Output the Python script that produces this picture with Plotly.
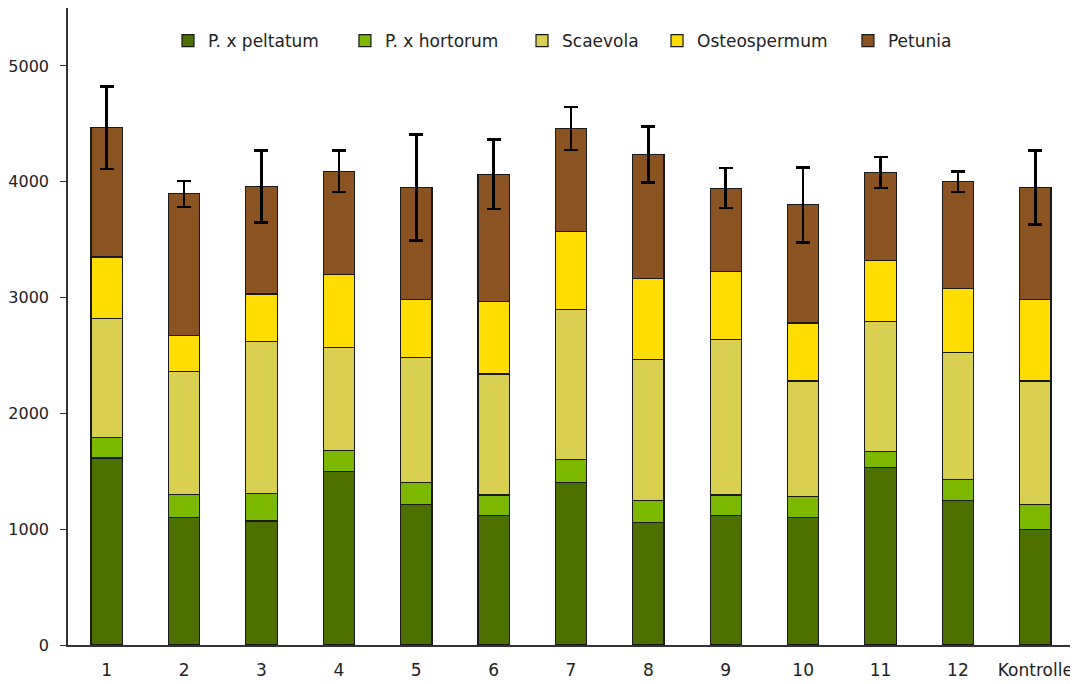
import plotly.graph_objects as go

categories = ["1", "2", "3", "4", "5", "6", "7", "8", "9", "10", "11", "12", "Kontrolle"]

peltatum     = [1615, 1100, 1070, 1495, 1215, 1115, 1405, 1060, 1115, 1100, 1535, 1245, 995]
hortorum     = [175, 200, 240, 185, 185, 180, 200, 185, 180, 185, 135, 185, 220]
scaevola     = [1030, 1060, 1310, 890, 1080, 1045, 1295, 1220, 1340, 995, 1125, 1095, 1065]
osteospermum = [530, 315, 410, 630, 500, 625, 670, 700, 590, 500, 525, 555, 700]
petunia      = [1115, 1220, 930, 890, 970, 1100, 890, 1070, 720, 1020, 760, 920, 970]
error_total  = [355, 112, 310, 180, 458, 302, 186, 240, 172, 324, 133, 87, 320]

series_names = ["P. x peltatum", "P. x hortorum", "Scaevola", "Osteospermum", "Petunia"]
series_values = [peltatum, hortorum, scaevola, osteospermum, petunia]
series_colors = ["#4B7000", "#7DB800", "#D9CF50", "#FFDD00", "#8B5222"]
legend_x = [0.0994, 0.2753, 0.4513, 0.5855, 0.7753]

fig = go.Figure()
legend_layout = {}
for i, (name, vals, color) in enumerate(zip(series_names, series_values, series_colors)):
    kw = {}
    if i == len(series_names) - 1:
        kw["error_y"] = dict(type="data", array=error_total, symmetric=True,
                             color="#000000", thickness=2.6, width=7)
    lname = "legend" if i == 0 else f"legend{i + 1}"
    fig.add_trace(go.Bar(
        x=categories, y=vals, name=name, legend=lname,
        marker=dict(color=color, line=dict(color="#1a1a1a", width=1.2)),
        **kw,
    ))
    legend_layout[lname] = dict(orientation="h", x=legend_x[i], xanchor="left",
                                y=0.948, yanchor="middle",
                                font=dict(family="DejaVu Sans", size=17, color="#222222"),
                                bgcolor="rgba(0,0,0,0)")

fig.update_layout(
    barmode="stack",
    bargap=0.595,
    width=1070, height=676,
    margin=dict(l=60, r=4, t=0, b=39),
    paper_bgcolor="white", plot_bgcolor="white",
    font=dict(family="DejaVu Sans", size=16, color="#222222"),
    showlegend=True,
    **legend_layout,
)
fig.update_xaxes(type="category", showline=True, linecolor="#333333", linewidth=1.5,
                 ticks="", showgrid=False, ticklabelstandoff=9,
                 tickfont=dict(family="DejaVu Sans", size=17, color="#222222"))
fig.update_yaxes(range=[0, 5500], showline=True, linecolor="#333333", linewidth=1.5,
                 ticks="outside", ticklen=6, tickcolor="#333333", tickwidth=1.2,
                 tickvals=[0, 1000, 2000, 3000, 4000, 5000], showgrid=False, zeroline=False,
                 ticklabelstandoff=8,
                 tickfont=dict(family="DejaVu Sans", size=16, color="#222222"))

fig.write_html("out.html")
